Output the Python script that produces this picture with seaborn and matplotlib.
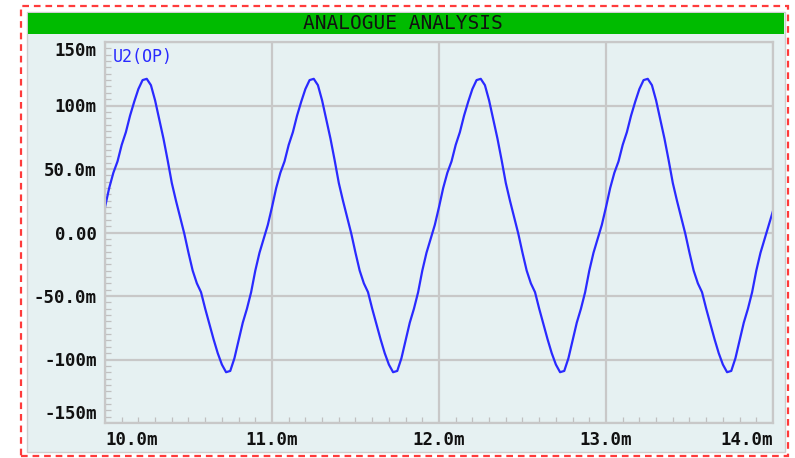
import numpy as np
import matplotlib
matplotlib.use("Agg")
import matplotlib.pyplot as plt
import seaborn as sns
from matplotlib.patches import Rectangle

# ---------------------------------------------------------------------------
# data read off the trace (time in ms, voltage in mV), sampled every 0.025 ms

t_start = 10.0
t_step = 0.025

volts_mv = [
    # 10.0 - 11.0
    20, 35, 47, 56, 69, 79, 92, 103, 113, 120,
    121, 116, 104, 89, 74, 57, 39, 25, 12, -1,
    -16, -30, -40, -47, -60, -72, -84, -95, -104, -110,
    -109, -99, -85, -71, -60, -47, -30, -16, -5, 6,
    # 11.0 - 12.0
    20, 35, 47, 56, 69, 79, 92, 103, 113, 120,
    121, 116, 104, 89, 74, 57, 39, 25, 12, -1,
    -16, -30, -40, -47, -60, -72, -84, -95, -104, -110,
    -109, -99, -85, -71, -60, -47, -30, -16, -5, 6,
    # 12.0 - 13.0
    20, 35, 47, 56, 69, 79, 92, 103, 113, 120,
    121, 116, 104, 89, 74, 57, 39, 25, 12, -1,
    -16, -30, -40, -47, -60, -72, -84, -95, -104, -110,
    -109, -99, -85, -71, -60, -47, -30, -16, -5, 6,
    # 13.0 - 14.0
    20, 35, 47, 56, 69, 79, 92, 103, 113, 120,
    121, 116, 104, 89, 74, 57, 39, 25, 12, -1,
    -16, -30, -40, -47, -60, -72, -84, -95, -104, -110,
    -109, -99, -85, -71, -60, -47, -30, -16, -5, 6,
    17,
]

x_ticks = [10.0, 11.0, 12.0, 13.0, 14.0]
x_labels = ["10.0m", "11.0m", "12.0m", "13.0m", "14.0m"]
y_ticks = [150, 100, 50, 0, -50, -100, -150]
y_labels = ["150m", "100m", "50.0m", "0.00", "-50.0m", "-100m", "-150m"]

title = "ANALOGUE ANALYSIS"
trace_name = "U2(OP)"

# ---------------------------------------------------------------------------

time_ms = t_start + t_step * np.arange(len(volts_mv))

sns.set_theme(style="white")
plt.rcParams['font.family'] = ['DejaVu Sans Mono', 'DejaVu Sans']

bg = "#e6f1f2"
grid_col = "#c8c8c8"
line_col = "#2a2aff"

W, H = 795, 458
fig = plt.figure(figsize=(W / 100, H / 100), dpi=100)
fig.patch.set_facecolor("white")

def fx(px):
    return px / W

def fy(py):
    return 1 - py / H

# red dashed outer frame
fig.patches.append(Rectangle((fx(21), fy(456)), fx(788) - fx(21), fy(6) - fy(456),
                             transform=fig.transFigure, fill=False,
                             edgecolor="#ff3b3b", lw=1.6, ls=(0, (3, 2.2)), zorder=-3))
# panel
fig.patches.append(Rectangle((fx(27), fy(452)), fx(785) - fx(27), fy(12) - fy(452),
                             transform=fig.transFigure, facecolor=bg,
                             edgecolor="#cfcfcf", lw=1.0, zorder=-2))
# green title bar
fig.patches.append(Rectangle((fx(28), fy(34)), fx(784) - fx(28), fy(13) - fy(34),
                             transform=fig.transFigure, facecolor="#00bb00",
                             edgecolor="none", zorder=-1))
fig.text(fx(403), fy(23.5), title, ha="center", va="center", fontsize=14,
         color="#111111", zorder=2)

ax = fig.add_axes([fx(105), fy(423), fx(773) - fx(105), fy(42) - fy(423)])
ax.set_zorder(3)
ax.set_facecolor(bg)

sns.lineplot(x=time_ms, y=volts_mv, ax=ax, color=line_col, linewidth=1.6)

ax.set_xlim(10.0, 14.0)
ax.set_ylim(-150, 150)

ax.set_xticks(x_ticks)
ax.set_xticklabels(x_labels)
ax.set_yticks(y_ticks)
ax.set_yticklabels(y_labels)
ax.set_xticks(np.arange(10.0, 14.01, 0.1), minor=True)
ax.set_yticks(np.arange(-150, 151, 5), minor=True)

ax.grid(True, which="major", color=grid_col, lw=1.6)
ax.tick_params(which="major", length=0, pad=6, labelsize=12.5, colors="#111111")
ax.tick_params(which="minor", direction="in", length=4, width=0.9, color="#c0c0c0",
               left=True, bottom=True)
for lab in ax.get_xticklabels() + ax.get_yticklabels():
    lab.set_fontweight("bold")
ax.get_xticklabels()[0].set_ha("left")
ax.get_xticklabels()[-1].set_ha("right")
ax.get_yticklabels()[0].set_va("top")
ax.get_yticklabels()[-1].set_va("bottom")

for s in ax.spines.values():
    s.set_color(grid_col)
    s.set_linewidth(1.6)

ax.text(0.012, 0.985, trace_name, transform=ax.transAxes, ha="left", va="top",
        fontsize=12, color=line_col)

fig.savefig("out.png", dpi=100, facecolor="white")
